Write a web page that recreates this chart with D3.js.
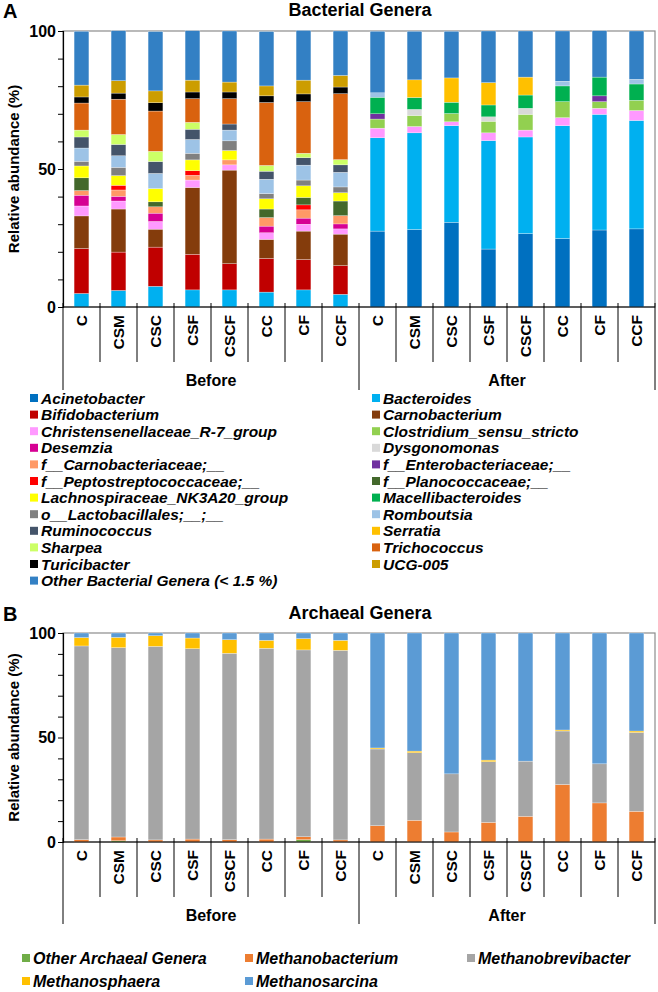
<!DOCTYPE html>
<html>
<head>
<meta charset="utf-8">
<script src="https://cdn.jsdelivr.net/npm/d3@7"></script>
<style>
  body { margin: 0; background: #fff; }
  svg text { font-family: "Liberation Sans", Arial, sans-serif; font-weight: bold; }
</style>
</head>
<body>
<svg id="chart" width="658" height="992"></svg>
<script>
const samples = ["C", "CSM", "CSC", "CSF", "CSCF", "CC", "CF", "CCF"];
const groups = ["Before", "After"];
const yTicks = [0, 50, 100];

/* bacterial genera, stacked bottom to top, values for Before (8) then After (8) */
const bacterialGenera = ["Acinetobacter", "Bacteroides", "Bifidobacterium", "Carnobacterium",
  "Christensenellaceae_R-7_group", "Clostridium_sensu_stricto", "Desemzia", "Dysgonomonas",
  "f__Carnobacteriaceae;__", "f__Enterobacteriaceae;__", "f__Peptostreptococcaceae;__",
  "f__Planococcaceae;__", "Lachnospiraceae_NK3A20_group", "Macellibacteroides",
  "o__Lactobacillales;__;__", "Romboutsia", "Ruminococcus", "Serratia", "Sharpea",
  "Trichococcus", "Turicibacter", "UCG-005", "Other Bacterial Genera (< 1.5 %)"];
const bacterialColors = ["#0070c0", "#00b0f0", "#c00000", "#843c0c", "#ff99ff", "#92d050",
  "#d60093", "#d9d9d9", "#ff9966", "#7030a0", "#ff0000", "#43682b", "#ffff00", "#00b050",
  "#808080", "#9dc3e6", "#44546a", "#ffc000", "#ccff66", "#d9620f", "#000000", "#cc9d00", "#3380c4"];
const bacterialValues = [
  [0, 0, 0, 0, 0, 0, 0, 0, 27.5, 28.1, 30.7, 21.0, 26.6, 24.8, 27.9, 28.3],
  [4.9, 6.0, 7.5, 6.2, 6.2, 5.4, 6.2, 4.6, 33.8, 35.0, 35.0, 39.3, 35.0, 40.9, 41.9, 39.3],
  [16.3, 13.9, 14.2, 12.9, 9.5, 12.2, 11.0, 10.4, 0, 0, 0, 0, 0, 0, 0, 0],
  [11.8, 15.6, 6.5, 24.2, 33.9, 6.9, 10.3, 11.4, 0, 0, 0, 0, 0, 0, 0, 0],
  [3.6, 2.9, 2.8, 2.7, 1.9, 2.4, 2.5, 1.9, 3.5, 2.3, 1.4, 2.8, 2.5, 2.9, 2.2, 3.6],
  [0, 0, 0, 0, 0, 0, 0, 0, 3.3, 4.0, 3.0, 4.2, 5.7, 5.8, 2.4, 3.7],
  [3.9, 1.7, 3.0, 0, 0, 2.4, 2.2, 1.8, 0, 0, 0, 0, 0, 0, 0, 0],
  [0, 0, 0, 0, 0, 0, 0, 0, 0, 2.2, 0, 1.6, 2.2, 0, 0, 0],
  [1.7, 2.3, 2.3, 1.7, 1.8, 3.1, 3.0, 3.0, 0, 0, 0, 0, 0, 0, 0, 0],
  [0, 0, 0, 0, 0, 0, 0, 0, 1.9, 0, 0, 0, 0, 0, 2.1, 0],
  [0, 1.7, 0, 1.7, 0, 0, 1.8, 0, 0, 0, 0, 0, 0, 0, 0, 0],
  [4.6, 0, 1.8, 0, 0, 3.1, 2.7, 5.3, 0, 0, 0, 0, 0, 0, 0, 0],
  [4.3, 3.5, 4.8, 3.9, 3.4, 3.7, 4.2, 3.0, 0, 0, 0, 0, 0, 0, 0, 0],
  [0, 0, 0, 0, 0, 0, 0, 0, 6.0, 4.3, 4.1, 4.3, 4.8, 5.7, 6.8, 5.9],
  [1.7, 3.0, 0, 2.4, 3.5, 1.9, 2.1, 2.1, 0, 0, 0, 0, 0, 0, 0, 0],
  [4.8, 4.2, 5.5, 5.0, 3.9, 5.2, 5.4, 5.3, 1.6, 0, 0, 0, 0, 1.7, 0, 1.7],
  [4.0, 4.1, 4.3, 3.7, 2.2, 2.9, 2.7, 2.7, 0, 0, 0, 0, 0, 0, 0, 0],
  [0, 0, 0, 0, 0, 0, 0, 0, 0, 6.4, 8.8, 8.1, 6.5, 0, 0, 0],
  [2.5, 3.6, 3.7, 2.5, 0, 2.1, 1.6, 1.9, 0, 0, 0, 0, 0, 0, 0, 0],
  [9.8, 12.8, 14.6, 8.6, 9.2, 22.8, 18.7, 23.9, 0, 0, 0, 0, 0, 0, 0, 0],
  [2.2, 2.2, 3.0, 2.4, 2.4, 2.4, 2.8, 2.4, 0, 0, 0, 0, 0, 0, 0, 0],
  [4.3, 4.5, 4.3, 4.3, 3.6, 3.6, 5.0, 4.2, 0, 0, 0, 0, 0, 0, 0, 0],
  [19.5, 18.1, 21.5, 17.9, 18.5, 19.7, 18.0, 16.1, 22.3, 17.6, 16.9, 18.7, 16.7, 18.2, 16.8, 17.5]
];

/* archaeal genera */
const archaealGenera = ["Other Archaeal Genera", "Methanobacterium", "Methanobrevibacter", "Methanosphaera", "Methanosarcina"];
const archaealColors = ["#70ad47", "#ed7d31", "#a5a5a5", "#ffc000", "#5b9bd5"];
const otherArchaeal     = [0, 0.6, 0, 0, 0, 0, 1.1, 0, 0, 0, 0, 0, 0, 0, 0, 0];
const methanobacterium  = [1.1, 1.8, 1.0, 1.4, 1.1, 1.4, 1.4, 1.0, 7.8, 10.4, 4.8, 9.4, 12.3, 27.5, 18.7, 14.7];
const methanobrevibacter = [92.7, 90.6, 92.6, 91.1, 89.2, 91.3, 89.4, 90.7, 36.7, 32.3, 27.8, 29.0, 26.4, 25.6, 18.7, 37.7];
const methanosphaera    = [4.0, 4.9, 5.1, 5.1, 6.5, 3.8, 5.4, 4.8, 0.5, 0.8, 0, 0.8, 0, 0.5, 0, 0.7];
const methanosarcina    = [2.2, 2.1, 1.3, 2.4, 3.2, 3.5, 2.7, 3.5, 55.0, 56.5, 67.4, 60.8, 61.3, 46.4, 62.6, 46.9];
const archaealValues = [otherArchaeal, methanobacterium, methanobrevibacter, methanosphaera, methanosarcina];

const categories = groups.flatMap(g => samples.map(s => g + "|" + s));

const svg = d3.select("#chart");

/**
 * Draws one stacked bar panel with its grouped x axis and legend
 */
function stackedPanel(cfg) {
  const x = d3.scaleBand().domain(categories).range([63, 655]).paddingInner(0.6).paddingOuter(0.3);
  const y = d3.scaleLinear().domain([0, 100]).range([cfg.bottom, cfg.top]);
  const step = x.step();
  const x0 = 63;

  const rows = categories.map((c, i) => {
    const r = {cat: c};
    cfg.keys.forEach((k, j) => r[k] = cfg.values[j][i]);
    return r;
  });
  const color = d3.scaleOrdinal().domain(cfg.keys).range(cfg.colors);
  const series = d3.stack().keys(cfg.keys)(rows);

  const g = svg.append("g");

  // plot frame
  g.append("rect")
    .attr("x", x0).attr("y", cfg.top)
    .attr("width", 655 - x0).attr("height", cfg.bottom - cfg.top)
    .attr("fill", "none").attr("stroke", "#8c8c8c").attr("stroke-width", 1.2);

  g.selectAll("g.layer").data(series).enter().append("g")
    .attr("class", "layer")
    .attr("fill", d => color(d.key))
    .selectAll("rect").data(d => d.filter(e => e[1] - e[0] > 0)).enter().append("rect")
      .attr("x", d => x(d.data.cat))
      .attr("width", x.bandwidth())
      .attr("y", d => y(d[1]))
      .attr("height", d => y(d[0]) - y(d[1]))
      .attr("stroke", "#ffffff").attr("stroke-width", 0.4).attr("stroke-opacity", 0.7);

  // y axis
  const yAxis = g.append("g")
    .attr("transform", `translate(${x0},0)`)
    .call(d3.axisLeft(y).tickValues(d3.range(0, 101, 10)).tickSize(5).tickFormat(d => yTicks.includes(d) ? d : ""));
  yAxis.select(".domain").attr("stroke", "#000").attr("stroke-width", 1.2);
  yAxis.selectAll(".tick line").attr("stroke", "#000");
  yAxis.selectAll(".tick text").attr("x", -7).attr("font-size", 16).attr("font-weight", "bold")
    .attr("font-family", "Liberation Sans, Arial, sans-serif").attr("fill", "#000");

  g.append("text")
    .attr("transform", `translate(14,${(cfg.top + cfg.bottom) / 2}) rotate(-90)`)
    .attr("text-anchor", "middle").attr("dy", "0.35em")
    .attr("font-size", 15)
    .text("Relative abundance (%)");

  // x axis baseline
  g.append("line")
    .attr("x1", x0).attr("x2", 655).attr("y1", cfg.bottom).attr("y2", cfg.bottom)
    .attr("stroke", "#000").attr("stroke-width", 1.2);

  // category dividers; group dividers run longer
  g.selectAll("line.div").data(d3.range(0, categories.length + 1)).enter().append("line")
    .attr("x1", i => x0 + i * step).attr("x2", i => x0 + i * step)
    .attr("y1", cfg.bottom - 4)
    .attr("y2", i => i % samples.length === 0 ? cfg.groupLine : cfg.catLine)
    .attr("stroke", "#000").attr("stroke-width", 1);

  g.selectAll("text.cat").data(categories).enter().append("text")
    .attr("transform", d => `translate(${x(d) + x.bandwidth() / 2},${cfg.bottom + 8}) rotate(-90)`)
    .attr("text-anchor", "end").attr("dy", "0.36em")
    .attr("font-size", 15.5)
    .text(d => d.split("|")[1]);

  g.selectAll("text.grp").data(groups).enter().append("text")
    .attr("x", (d, i) => x0 + (i + 0.5) * samples.length * step)
    .attr("y", cfg.groupLabel)
    .attr("text-anchor", "middle").attr("dy", "0.35em")
    .attr("font-size", 16)
    .text(d => d);

  // titles
  g.append("text").attr("x", 360).attr("y", cfg.titleY).attr("dy", "0.35em")
    .attr("text-anchor", "middle").attr("font-size", 18).text(cfg.title);
  g.append("text").attr("x", 3).attr("y", cfg.titleY + 1).attr("dy", "0.35em")
    .attr("font-size", 20).text(cfg.letter);

  // legend, row major
  const leg = g.selectAll("g.leg").data(cfg.keys).enter().append("g")
    .attr("transform", (d, i) => `translate(${cfg.legendX[i % cfg.legendX.length]},${cfg.legendY + Math.floor(i / cfg.legendX.length) * cfg.legendStep})`);
  leg.append("rect").attr("x", 0).attr("y", -4).attr("width", 8).attr("height", 8)
    .attr("fill", d => color(d));
  leg.append("text").attr("x", 11).attr("dy", "0.36em")
    .attr("font-size", cfg.legendFont).attr("font-style", "italic")
    .text(d => d);
}

stackedPanel({
  keys: bacterialGenera, values: bacterialValues, colors: bacterialColors,
  top: 31, bottom: 307, catLine: 362, groupLine: 390, groupLabel: 380,
  title: "Bacterial Genera", letter: "A", titleY: 10,
  legendX: [30, 372], legendY: 398, legendStep: 16.6, legendFont: 15.5
});

stackedPanel({
  keys: archaealGenera, values: archaealValues, colors: archaealColors,
  top: 633, bottom: 842, catLine: 897, groupLine: 924, groupLabel: 915,
  title: "Archaeal Genera", letter: "B", titleY: 613,
  legendX: [22, 245, 467], legendY: 958, legendStep: 23, legendFont: 16
});
</script>
</body>
</html>
